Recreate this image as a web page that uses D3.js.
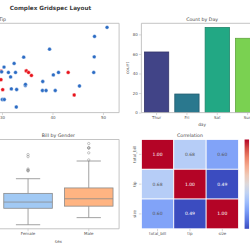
<!DOCTYPE html>
<html>
<head>
<meta charset="utf-8">
<script src="https://cdn.jsdelivr.net/npm/d3@7"></script>
<style>
  body { margin: 0; background: #fff; }
  text { font-family: "DejaVu Sans", sans-serif; fill: #333; }
</style>
</head>
<body>
<div id="chart"></div>
<script>
// scatter: tips rows with total_bill >= 29 (the rest sits off to the left)
let totalBill = [29.85, 34.81, 34.83, 35.26, 35.83, 43.11, 29.80, 44.30, 30.14,
  50.81, 48.33, 39.42, 48.27, 34.30, 32.40, 30.40, 31.27, 32.68, 41.19, 48.17,
  40.17, 31.71, 38.07, 34.63, 34.65, 45.35, 31.85, 32.90, 38.01, 38.73, 40.55,
  30.06, 30.46, 32.83, 29.93, 29.03];
let tipVals = [5.14, 5.20, 5.17, 5.00, 4.67, 5.00, 4.20, 2.50, 3.09,
  10.00, 9.00, 7.58, 6.73, 6.70, 6.00, 5.60, 5.00, 5.00, 5.00, 5.00,
  4.73, 4.50, 4.00, 3.55, 3.68, 3.50, 3.18, 3.11, 3.00, 3.00, 3.00,
  2.00, 2.00, 1.17, 5.07, 5.92];
let sexVals = ["Female", "Female", "Female", "Female", "Female", "Female", "Female", "Female", "Female",
  "Male", "Male", "Male", "Male", "Male", "Male", "Male", "Male", "Male", "Male", "Male",
  "Male", "Male", "Male", "Male", "Male", "Male", "Male", "Male", "Male", "Male", "Male",
  "Male", "Male", "Male", "Male", "Male"];
let scatterTicks = [30, 40, 50];

// count by day
let days = ["Thur", "Fri", "Sat", "Sun"];
let dayCounts = [62, 19, 87, 76];
let countTicks = [0, 20, 40, 60, 80];

// bill by gender (box summary)
let sexes = ["Female", "Male"];
let boxQ1 = [12.75, 14.0];
let boxMed = [16.40, 18.35];
let boxQ3 = [21.52, 24.71];
let whiskLo = [3.07, 7.25];
let whiskHi = [30.14, 40.55];
let fliers = [[34.81, 34.83, 35.26, 35.83, 43.11, 44.30],
              [41.19, 45.35, 48.17, 48.27, 48.33, 50.81]];

// correlation
let corrLabels = ["total_bill", "tip", "size"];
let corrVals = [[1.00, 0.68, 0.60], [0.68, 1.00, 0.49], [0.60, 0.49, 1.00]];

let W = 250, H = 250;
let colW = 121.4, gapW = 22.3, col0 = -146;
let colX = i => col0 + i * (colW + gapW);
let row = [{ top: 23.3, bot: 112.6 }, { top: 139.5, bot: 228.8 }];
let spine = "#bdbdbd", tickLen = 2.5, tickFont = 4;

let svg = d3.select("#chart").append("svg")
  .attr("width", W).attr("height", H);
svg.append("rect").attr("width", W).attr("height", H).attr("fill", "#fff");

svg.append("text").attr("x", 50.5).attr("y", 9.6).attr("text-anchor", "middle")
  .attr("font-size", 5.7).attr("font-weight", "bold").attr("fill", "#3a3a3a")
  .style("fill", "#3a3a3a").text("Complex Gridspec Layout");

function styleAxis(g) {
  g.select(".domain").remove();
  g.selectAll(".tick line").attr("stroke", spine).attr("stroke-width", 0.6);
  g.selectAll(".tick text").attr("font-size", tickFont).style("fill", "#555")
    .attr("font-family", "DejaVu Sans");
}
function frame(x0, x1, y0, y1, sides) {
  let s = { t: [x0, y0, x1, y0], b: [x0, y1, x1, y1], l: [x0, y0, x0, y1], r: [x1, y0, x1, y1] };
  sides.split("").forEach(k => {
    svg.append("line").attr("x1", s[k][0]).attr("y1", s[k][1]).attr("x2", s[k][2]).attr("y2", s[k][3])
      .attr("stroke", spine).attr("stroke-width", 0.9);
  });
}
function title(txt, cx, y) {
  svg.append("text").attr("x", cx).attr("y", y).attr("text-anchor", "middle")
    .attr("font-size", 4.7).style("fill", "#444").text(txt);
}

// ---- scatter (top, spans two columns)
let sx0 = colX(0), sx1 = colX(1) + colW;
let xS = d3.scaleLinear().domain([0.683, 53.197]).range([sx0, sx1]);
let yS = d3.scaleLinear().domain([0.55, 10.45]).range([row[0].bot, row[0].top]);
let sexColor = d3.scaleOrdinal().domain(["Male", "Female"]).range(["#2c6cc4", "#e8141c"]);

frame(sx0, sx1, row[0].top, row[0].bot, "tblr");
svg.append("g").attr("transform", `translate(0,${row[0].bot})`)
  .call(d3.axisBottom(xS).tickValues(scatterTicks).tickSize(tickLen).tickPadding(1))
  .call(styleAxis);
title("Total Bill vs Tip", (sx0 + sx1) / 2 + 2, 20.5);

svg.append("g").selectAll("circle")
  .data(totalBill.map((b, i) => ({ b: b, t: tipVals[i], s: sexVals[i] })))
  .join("circle")
  .attr("cx", d => xS(d.b)).attr("cy", d => yS(d.t)).attr("r", 1.9)
  .attr("fill", d => sexColor(d.s)).attr("stroke", "#fff").attr("stroke-width", 0.4);

// ---- bar chart (top right)
let bx0 = colX(2), bx1 = colX(2) + colW;
let xB = d3.scaleBand().domain(days).range([bx0, bx1]).paddingInner(0.2).paddingOuter(0.1);
let yB = d3.scaleLinear().domain([0, 91.35]).range([row[0].bot, row[0].top]);
let viridis4 = ["#414487", "#2a788e", "#22a884", "#7ad151"];

svg.append("g").selectAll("rect").data(days).join("rect")
  .attr("x", d => xB(d)).attr("width", xB.bandwidth())
  .attr("y", (d, i) => yB(dayCounts[i])).attr("height", (d, i) => yB(0) - yB(dayCounts[i]))
  .attr("fill", (d, i) => viridis4[i])
  .attr("stroke", (d, i) => d3.color(viridis4[i]).darker(0.7)).attr("stroke-width", 0.8);
frame(bx0, bx1, row[0].top, row[0].bot, "tblr");
svg.append("g").attr("transform", `translate(0,${row[0].bot})`)
  .call(d3.axisBottom(xB).tickSize(tickLen).tickPadding(1)).call(styleAxis);
svg.append("g").attr("transform", `translate(${bx0},0)`)
  .call(d3.axisLeft(yB).tickValues(countTicks).tickSize(tickLen).tickPadding(1)).call(styleAxis);
title("Count by Day", (bx0 + bx1) / 2, 20.5);
svg.append("text").attr("x", (bx0 + bx1) / 2).attr("y", 126).attr("text-anchor", "middle")
  .attr("font-size", 4.3).style("fill", "#555").text("day");
svg.append("text").attr("transform", `translate(129.3,${(row[0].top + row[0].bot) / 2}) rotate(-90)`)
  .attr("text-anchor", "middle").attr("font-size", 4.3).style("fill", "#555").text("count");

// ---- box plot (bottom middle)
let px0 = colX(1), px1 = colX(1) + colW;
let xP = d3.scaleBand().domain(sexes).range([px0, px1]).paddingInner(0.2).paddingOuter(0.1);
let yP = d3.scaleLinear().domain([0.683, 53.197]).range([row[1].bot, row[1].top]);
let pastel = ["#a1c9f4", "#ffb482"];
let boxLine = "#8a8a8a";

frame(px0, px1, row[1].top, row[1].bot, "tblr");
let bg = svg.append("g");
sexes.forEach((s, i) => {
  let x = xP(s), w = xP.bandwidth(), cx = x + w / 2;
  bg.append("line").attr("x1", cx).attr("x2", cx).attr("y1", yP(boxQ3[i])).attr("y2", yP(whiskHi[i]))
    .attr("stroke", boxLine).attr("stroke-width", 0.8);
  bg.append("line").attr("x1", cx).attr("x2", cx).attr("y1", yP(boxQ1[i])).attr("y2", yP(whiskLo[i]))
    .attr("stroke", boxLine).attr("stroke-width", 0.8);
  [whiskHi[i], whiskLo[i]].forEach(v => {
    bg.append("line").attr("x1", cx - w / 4).attr("x2", cx + w / 4).attr("y1", yP(v)).attr("y2", yP(v))
      .attr("stroke", boxLine).attr("stroke-width", 0.8);
  });
  bg.append("rect").attr("x", x).attr("width", w).attr("y", yP(boxQ3[i]))
    .attr("height", yP(boxQ1[i]) - yP(boxQ3[i]))
    .attr("fill", pastel[i]).attr("stroke", boxLine).attr("stroke-width", 0.8);
  bg.append("line").attr("x1", x).attr("x2", x + w).attr("y1", yP(boxMed[i])).attr("y2", yP(boxMed[i]))
    .attr("stroke", boxLine).attr("stroke-width", 0.8);
  bg.selectAll(null).data(fliers[i]).join("circle")
    .attr("cx", cx).attr("cy", d => yP(d)).attr("r", 1.2)
    .attr("fill", "none").attr("stroke", boxLine).attr("stroke-width", 0.5);
});
svg.append("g").attr("transform", `translate(0,${row[1].bot})`)
  .call(d3.axisBottom(xP).tickSize(tickLen).tickPadding(1)).call(styleAxis);
title("Bill by Gender", (px0 + px1) / 2, 137.2);
svg.append("text").attr("x", (px0 + px1) / 2).attr("y", 243).attr("text-anchor", "middle")
  .attr("font-size", 4.3).style("fill", "#555").text("sex");

// ---- heatmap (bottom right)
let hx0 = colX(2), hw = colW * 0.8, hx1 = hx0 + hw;
let hy0 = row[1].top, hy1 = row[1].bot;
let xH = d3.scaleBand().domain(corrLabels).range([hx0, hx1]);
let yH = d3.scaleBand().domain(corrLabels).range([hy0, hy1]);
let coolwarm = d3.interpolateRgbBasis(["#3b4cc0", "#5a78e4", "#7b9ff9", "#9ebeff", "#c0d4f5", "#dddcdc",
  "#f2cbb7", "#f7ac8e", "#ee8468", "#d65244", "#b40426"]);
let vmin = 0.49, vmax = 1.0;
let cScale = d3.scaleSequential(coolwarm).domain([vmin, vmax]);

let cells = [];
corrVals.forEach((r, i) => r.forEach((v, j) => cells.push({ r: corrLabels[i], c: corrLabels[j], v: v })));
let hg = svg.append("g");
hg.selectAll("rect").data(cells).join("rect")
  .attr("x", d => xH(d.c)).attr("y", d => yH(d.r))
  .attr("width", xH.bandwidth()).attr("height", yH.bandwidth())
  .attr("fill", d => cScale(d.v)).attr("stroke", "#fff").attr("stroke-width", 0.8);
hg.selectAll("text").data(cells).join("text")
  .attr("x", d => xH(d.c) + xH.bandwidth() / 2).attr("y", d => yH(d.r) + yH.bandwidth() / 2)
  .attr("dy", "0.35em").attr("text-anchor", "middle").attr("font-size", 4.5)
  .style("fill", d => {
    let c = d3.rgb(cScale(d.v));
    let lum = 0.2126 * c.r / 255 + 0.7152 * c.g / 255 + 0.0722 * c.b / 255;
    return lum > 0.6 ? "#555" : "#fff";
  })
  .text(d => d.v.toFixed(2));
svg.append("g").attr("transform", `translate(0,${hy1})`)
  .call(d3.axisBottom(xH).tickSize(tickLen).tickPadding(1)).call(styleAxis);
let yAx = svg.append("g").attr("transform", `translate(${hx0},0)`)
  .call(d3.axisLeft(yH).tickSize(tickLen).tickPadding(1)).call(styleAxis);
yAx.selectAll(".tick text").attr("transform", "rotate(-90)").attr("text-anchor", "middle")
  .attr("x", 0).attr("y", -5).attr("dy", 0);
title("Correlation", (hx0 + hx1) / 2, 137.2);

// colorbar (its tick labels fall outside the window)
let cbx = hx0 + colW * 0.85, cbh = hy1 - hy0, cbw = cbh / 20;
let defs = svg.append("defs");
let grad = defs.append("linearGradient").attr("id", "cw").attr("x1", 0).attr("y1", 1).attr("x2", 0).attr("y2", 0);
d3.range(0, 1.01, 0.1).forEach(t => {
  grad.append("stop").attr("offset", t).attr("stop-color", coolwarm(t));
});
svg.append("rect").attr("x", cbx).attr("y", hy0).attr("width", cbw).attr("height", cbh)
  .attr("fill", "url(#cw)");
</script>
</body>
</html>
